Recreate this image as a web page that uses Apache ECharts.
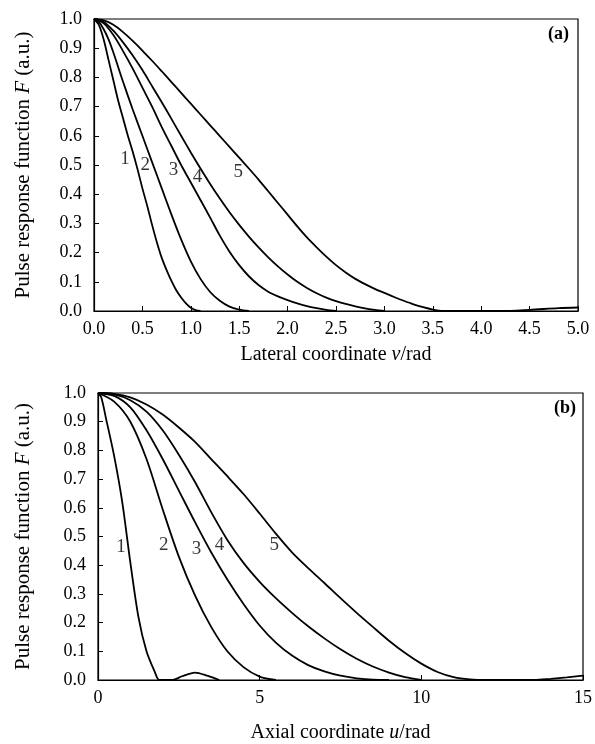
<!DOCTYPE html>
<html>
<head>
<meta charset="utf-8">
<script src="https://cdn.jsdelivr.net/npm/echarts@6/dist/echarts.min.js"></script>
<style>html,body{margin:0;padding:0;background:#fff;}#c{width:595px;height:744px;}</style>
</head>
<body>
<div id="c"></div>
<script>
// ---- Panel (a): lateral coordinate v ----
const vA1 = [0, 0.05, 0.1, 0.15, 0.2, 0.25, 0.3, 0.35, 0.4, 0.45, 0.5, 0.55, 0.6, 0.65, 0.7, 0.75, 0.8, 0.85, 0.9, 0.95, 1.0, 1.05, 1.1];
const fA1 = [1, 0.98, 0.93, 0.86, 0.79, 0.72, 0.66, 0.6, 0.545, 0.485, 0.42, 0.36, 0.295, 0.235, 0.182, 0.14, 0.103, 0.071, 0.046, 0.026, 0.011, 0.003, 0];
const vA2 = [0, 0.05, 0.1, 0.15, 0.2, 0.3, 0.4, 0.5, 0.6, 0.7, 0.8, 0.9, 1.0, 1.1, 1.2, 1.3, 1.4, 1.5, 1.6];
const fA2 = [1, 0.99, 0.965, 0.93, 0.885, 0.785, 0.69, 0.6, 0.51, 0.42, 0.33, 0.245, 0.17, 0.11, 0.065, 0.035, 0.015, 0.005, 0];
const vA3 = [0, 0.1, 0.2, 0.3, 0.4, 0.5, 0.6, 0.7, 0.8, 0.9, 1.0, 1.1, 1.2, 1.3, 1.4, 1.5, 1.6, 1.7, 1.8, 1.9, 2.0, 2.1, 2.2, 2.3, 2.4, 2.5];
const fA3 = [1, 0.985, 0.945, 0.89, 0.83, 0.765, 0.7, 0.63, 0.565, 0.5, 0.44, 0.38, 0.32, 0.258, 0.203, 0.157, 0.119, 0.089, 0.066, 0.05, 0.037, 0.026, 0.017, 0.01, 0.004, 0];
const vA4 = [0, 0.1, 0.2, 0.3, 0.4, 0.5, 0.6, 0.7, 0.8, 0.9, 1.0, 1.1, 1.2, 1.3, 1.4, 1.5, 1.6, 1.7, 1.8, 1.9, 2.0, 2.1, 2.2, 2.3, 2.4, 2.5, 2.6, 2.7, 2.8, 2.9, 3.0];
const fA4 = [1, 0.99, 0.96, 0.92, 0.875, 0.825, 0.77, 0.715, 0.658, 0.6, 0.543, 0.488, 0.435, 0.385, 0.338, 0.295, 0.255, 0.218, 0.184, 0.153, 0.125, 0.1, 0.079, 0.061, 0.046, 0.034, 0.024, 0.016, 0.009, 0.004, 0];
const vA5 = [0, 0.1, 0.2, 0.3, 0.4, 0.5, 0.6, 0.7, 0.8, 0.9, 1.0, 1.1, 1.2, 1.3, 1.4, 1.5, 1.6, 1.7, 1.8, 1.9, 2.0, 2.1, 2.2, 2.3, 2.4, 2.5, 2.6, 2.7, 2.8, 2.9, 3.0, 3.1, 3.2, 3.3, 3.4, 3.5, 3.6, 4.2, 4.5, 4.8, 5.0];
const fA5 = [1, 0.995, 0.98, 0.955, 0.925, 0.892, 0.857, 0.821, 0.784, 0.747, 0.71, 0.673, 0.636, 0.599, 0.562, 0.525, 0.488, 0.45, 0.41, 0.37, 0.33, 0.29, 0.252, 0.218, 0.186, 0.157, 0.132, 0.11, 0.092, 0.076, 0.062, 0.048, 0.035, 0.023, 0.013, 0.005, 0, 0, 0.004, 0.01, 0.012];

// ---- Panel (b): axial coordinate u ----
const uB1 = [0, 0.1, 0.25, 0.5, 0.75, 1.0, 1.25, 1.5, 1.75, 1.9, 2.3, 2.6, 3.0, 3.4, 3.75];
const fB1 = [1, 0.985, 0.91, 0.78, 0.62, 0.41, 0.22, 0.1, 0.03, 0, 0, 0.013, 0.026, 0.014, 0];
const uB2 = [0, 0.5, 1.0, 1.5, 2.0, 2.5, 3.0, 3.5, 4.0, 4.5, 5.0, 5.5];
const fB2 = [1, 0.97, 0.9, 0.77, 0.595, 0.43, 0.295, 0.185, 0.1, 0.045, 0.012, 0];
const uB3 = [0, 0.5, 1, 1.5, 2, 2.5, 3, 3.5, 4, 4.5, 5, 5.5, 6, 6.5, 7, 7.5, 8, 8.5, 9];
const fB3 = [1, 0.99, 0.95, 0.87, 0.77, 0.66, 0.55, 0.445, 0.35, 0.265, 0.19, 0.13, 0.085, 0.052, 0.03, 0.015, 0.006, 0.001, 0];
const uB4 = [0, 0.5, 1, 1.5, 2, 2.5, 3, 3.5, 4, 4.5, 5, 5.5, 6, 6.5, 7, 7.5, 8, 8.5, 9, 9.5, 10];
const fB4 = [1, 0.995, 0.975, 0.935, 0.87, 0.785, 0.69, 0.585, 0.488, 0.408, 0.342, 0.285, 0.234, 0.187, 0.145, 0.107, 0.074, 0.047, 0.026, 0.01, 0];
const uB5 = [0, 0.5, 1, 1.5, 2, 2.5, 3, 3.5, 4, 4.5, 5, 5.5, 6, 6.5, 7, 7.5, 8, 8.5, 9, 9.5, 10, 10.5, 11, 11.5, 12, 13.5, 14, 14.5, 15];
const fB5 = [1, 0.997, 0.985, 0.96, 0.925, 0.88, 0.83, 0.77, 0.71, 0.648, 0.58, 0.51, 0.445, 0.39, 0.338, 0.285, 0.234, 0.185, 0.137, 0.094, 0.057, 0.028, 0.01, 0.002, 0, 0, 0.004, 0.009, 0.015];

// curve number labels (data coordinates)
const curveNames = ['1', '2', '3', '4', '5'];
const labelPosA = [[0.32, 0.52], [0.53, 0.5], [0.82, 0.483], [1.07, 0.46], [1.49, 0.476]];
const labelPosB = [[0.71, 0.462], [2.03, 0.469], [3.05, 0.455], [3.76, 0.469], [5.45, 0.469]];

const panelTitles = ['(a)', '(b)'];

const FONT = 'Liberation Serif';
const pairs = (xs, ys) => xs.map((x, i) => [x, ys[i]]);

function lineSeries(xs, ys, gi) {
  return {
    type: 'line', xAxisIndex: gi, yAxisIndex: gi, data: pairs(xs, ys),
    showSymbol: false, symbol: 'none', smooth: 0.3, clip: true,
    lineStyle: { color: '#000', width: 1.8 }, silent: true, animation: false
  };
}
function labelSeries(pos, gi) {
  return {
    type: 'scatter', xAxisIndex: gi, yAxisIndex: gi, symbolSize: 0, silent: true, animation: false,
    data: pos.map((p, i) => ({ value: p, name: curveNames[i] })),
    label: { show: true, position: 'inside', formatter: p => p.name, color: '#000', fontFamily: FONT, fontSize: 19 }
  };
}
function xAxisCfg(gi, max, interval, fmt, name, gap) {
  return {
    gridIndex: gi, type: 'value', min: 0, max: max, interval: interval,
    axisLine: { show: true, onZero: false, lineStyle: { color: '#000', width: 1.2 } },
    axisTick: { show: true, inside: true, length: 5, lineStyle: { color: '#000', width: 1 } },
    axisLabel: { formatter: fmt, color: '#000', fontFamily: FONT, fontSize: 18, margin: 9 },
    splitLine: { show: false },
    name: name, nameLocation: 'middle', nameGap: gap,
    nameTextStyle: { color: '#000', fontFamily: FONT, fontSize: 20,
      rich: { i: { fontStyle: 'italic', fontFamily: FONT, fontSize: 20, color: '#000' } } }
  };
}
function yAxisCfg(gi, gap) {
  return {
    gridIndex: gi, type: 'value', min: 0, max: 1, interval: 0.1,
    axisLine: { show: true, onZero: false, lineStyle: { color: '#000', width: 1.2 } },
    axisTick: { show: true, inside: true, length: 5, lineStyle: { color: '#000', width: 1 } },
    axisLabel: { formatter: v => v.toFixed(1), color: '#000', fontFamily: FONT, fontSize: 18, margin: 12 },
    splitLine: { show: false },
    name: 'Pulse response function {i|F} (a.u.)', nameLocation: 'middle', nameGap: gap, nameRotate: 90,
    nameTextStyle: { color: '#000', fontFamily: FONT, fontSize: 21,
      rich: { i: { fontStyle: 'italic', fontFamily: FONT, fontSize: 21, color: '#000' } } }
  };
}

const chart = echarts.init(document.getElementById('c'), null, { renderer: 'canvas' });
chart.setOption({
  backgroundColor: '#fff',
  animation: false,
  grid: [
    { left: 94, top: 19, width: 484, height: 292, show: true, borderColor: '#000', borderWidth: 1.2, backgroundColor: 'transparent' },
    { left: 98, top: 393, width: 487, height: 292, show: true, borderColor: '#000', borderWidth: 1.2, backgroundColor: 'transparent' }
  ],
  xAxis: [
    xAxisCfg(0, 5, 0.5, v => v.toFixed(1), 'Lateral coordinate {i|v}/rad', 34),
    xAxisCfg(1, 15, 5, v => String(v), 'Axial coordinate {i|u}/rad', 43)
  ],
  yAxis: [yAxisCfg(0, 60), yAxisCfg(1, 64)],
  graphic: [
    { type: 'text', left: 548, top: 25, style: { text: panelTitles[0], font: 'bold 18px "Liberation Serif"', fill: '#000' } },
    { type: 'text', left: 554, top: 399, style: { text: panelTitles[1], font: 'bold 18px "Liberation Serif"', fill: '#000' } }
  ],
  series: [
    lineSeries(vA1, fA1, 0), lineSeries(vA2, fA2, 0), lineSeries(vA3, fA3, 0), lineSeries(vA4, fA4, 0), lineSeries(vA5, fA5, 0),
    lineSeries(uB1, fB1, 1), lineSeries(uB2, fB2, 1), lineSeries(uB3, fB3, 1), lineSeries(uB4, fB4, 1), lineSeries(uB5, fB5, 1),
    labelSeries(labelPosA, 0), labelSeries(labelPosB, 1)
  ]
});
</script>
</body>
</html>
